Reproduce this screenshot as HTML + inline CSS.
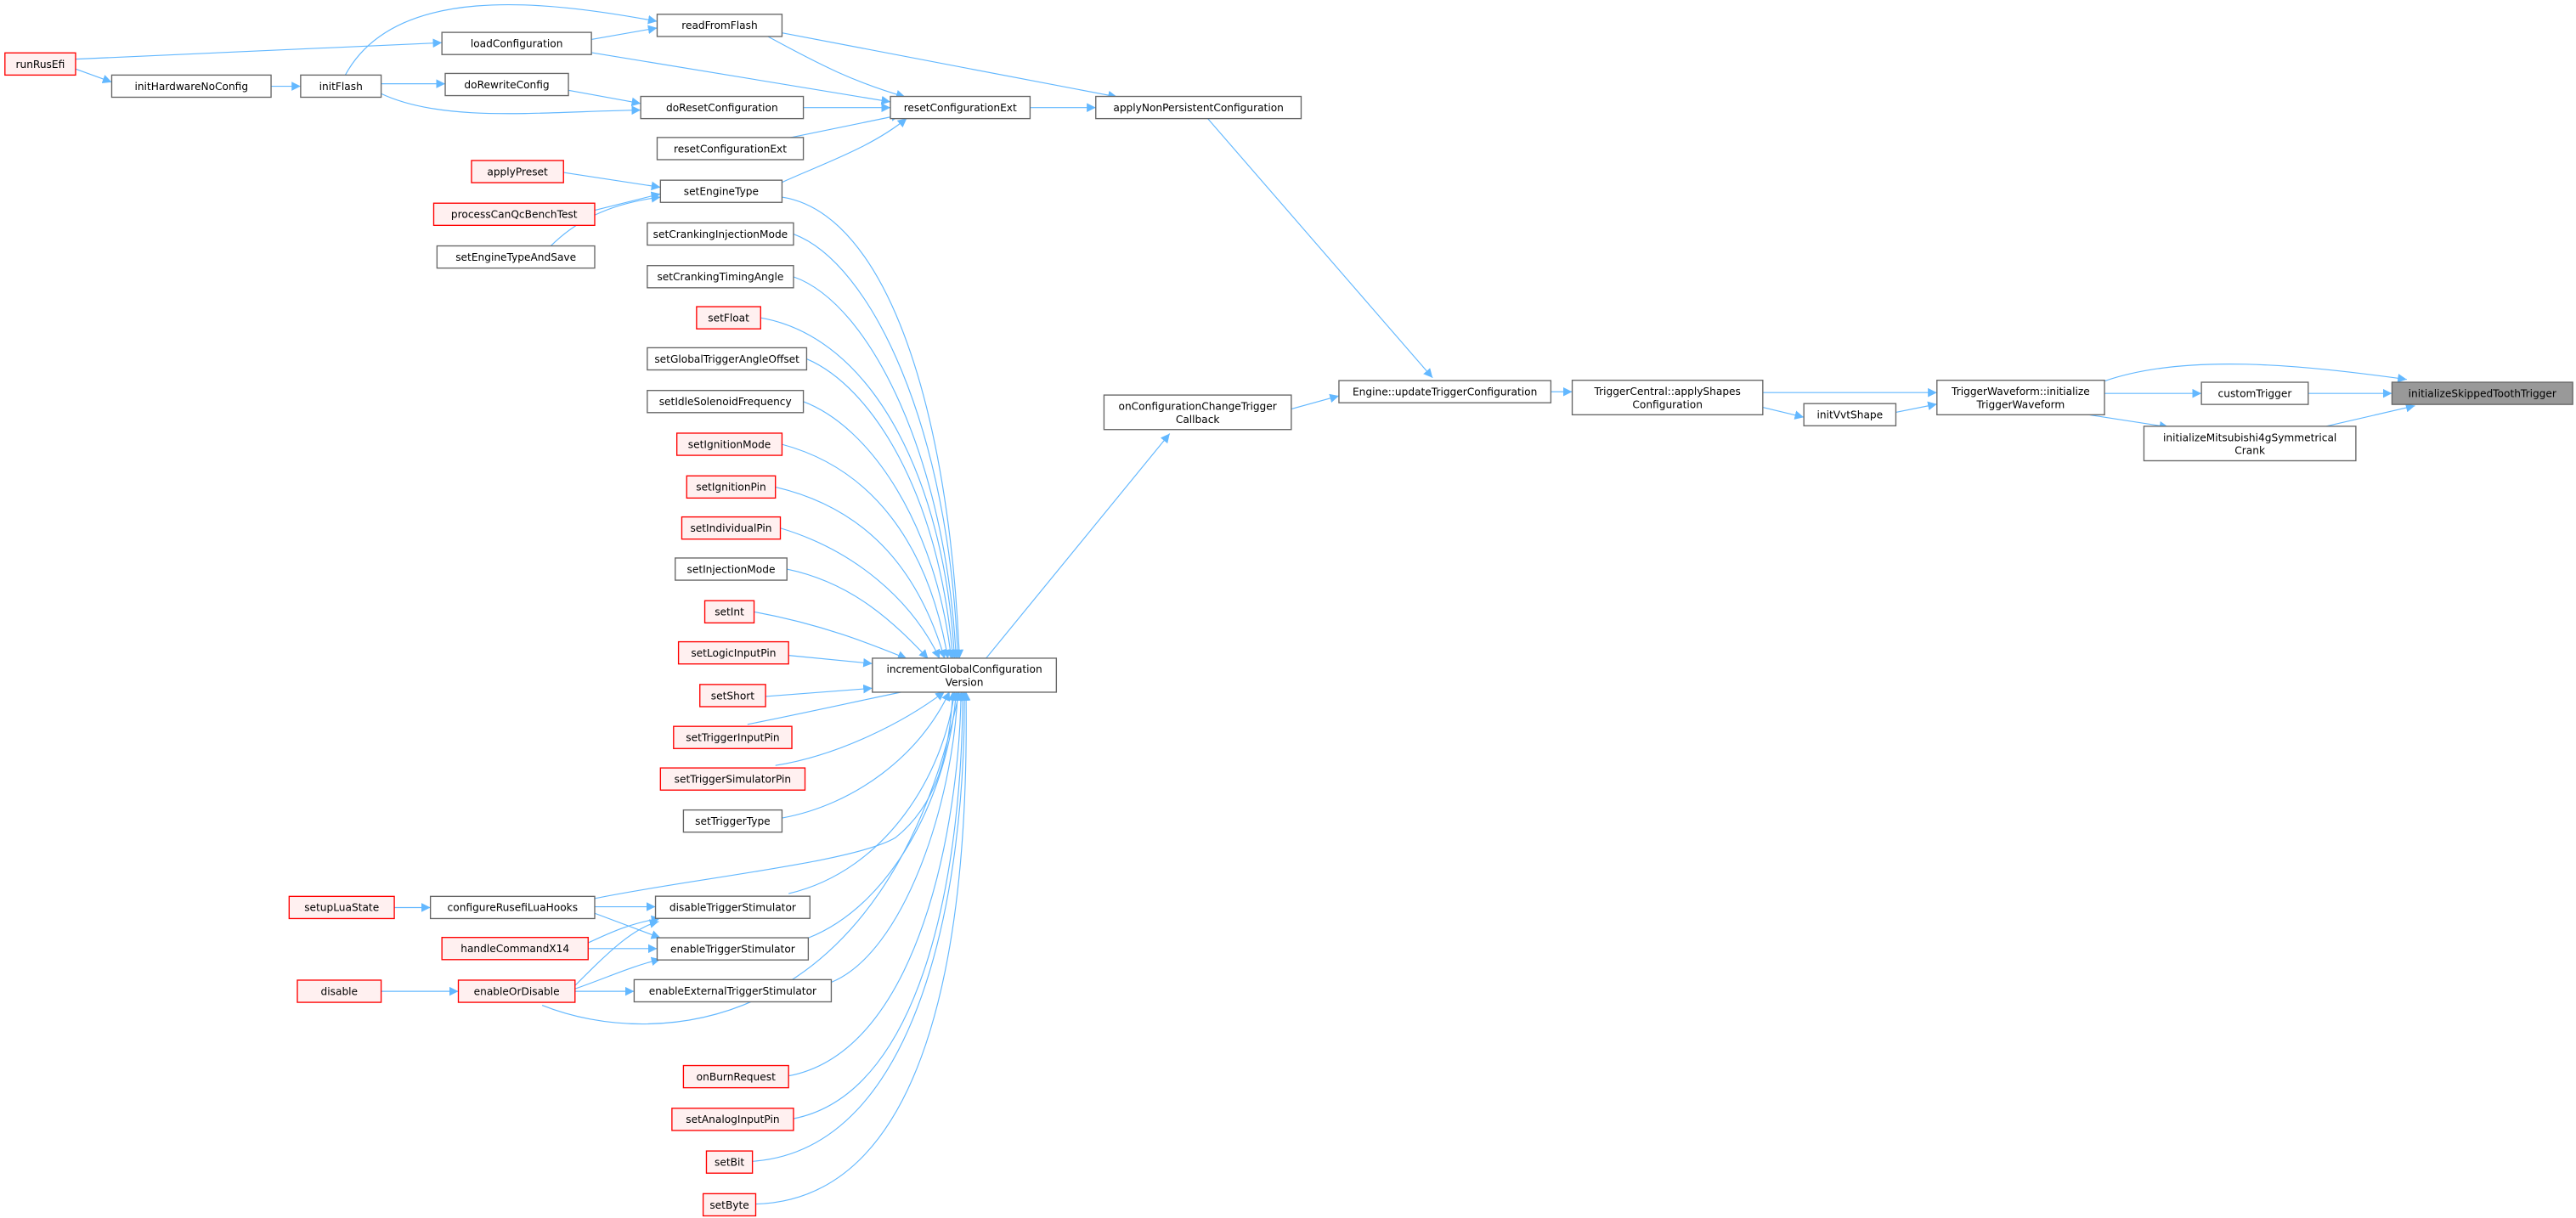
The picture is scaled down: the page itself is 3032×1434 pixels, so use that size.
<!DOCTYPE html>
<html><head><meta charset="utf-8"><style>
html,body{margin:0;padding:0;background:#fff;}
svg{display:block}
text{font-family:"DejaVu Sans","Liberation Sans",sans-serif;font-size:6.3px;fill:#000;text-anchor:middle}
.n{fill:#fff;stroke:#666;stroke-width:0.7}
.r{fill:#fff0f0;stroke:#f00;stroke-width:0.7}
.g{fill:#999;stroke:#666;stroke-width:0.7}
.e{fill:none;stroke:#63b8ff;stroke-width:0.6}
</style></head><body>
<svg width="3032" height="1434" viewBox="0 0 1568 741.5" preserveAspectRatio="none" xmlns="http://www.w3.org/2000/svg">
<defs><marker id="a" viewBox="0 0 10 10" refX="10" refY="5" markerWidth="5.5" markerHeight="5.5" markerUnits="userSpaceOnUse" orient="auto"><path d="M0,0 L10,5 L0,10 z" fill="#63b8ff"/></marker></defs>
<g marker-end="url(#a)">
<path class="e" d="M46,36 L269,26"/>
<path class="e" d="M46,42 L68,50"/>
<path class="e" d="M165,52.5 L183,52.5"/>
<path class="e" d="M210,46 C240,-10 330,0 400,13"/>
<path class="e" d="M232,51 L271,51"/>
<path class="e" d="M232,57 C270,75 330,68 390,67"/>
<path class="e" d="M360,24 L400,17"/>
<path class="e" d="M360,32 L542,62"/>
<path class="e" d="M346,55 L390,63"/>
<path class="e" d="M467,22 C500,40 520,50 551,59"/>
<path class="e" d="M476,20 L680,59"/>
<path class="e" d="M489,65.5 L542,65.5"/>
<path class="e" d="M480,84 L548,70"/>
<path class="e" d="M476,111 C500,100 530,90 552,72"/>
<path class="e" d="M627,65.5 L667,65.5"/>
<path class="e" d="M735,72 L872,230"/>
<path class="e" d="M343,105 L402,114"/>
<path class="e" d="M362,128 L402,118"/>
<path class="e" d="M335,150 C350,135 370,124 402,120"/>
<path class="e" d="M476,120 C540,130 578,250 584,401"/>
<path class="e" d="M483,142.5 C530,160 578,260 583,401"/>
<path class="e" d="M483,168.5 C530,185 576,280 582,401"/>
<path class="e" d="M463,193.5 C530,205 575,290 581,401"/>
<path class="e" d="M491,218.5 C530,235 572,300 580,401"/>
<path class="e" d="M489,244.5 C530,260 570,320 579,401"/>
<path class="e" d="M476,270.5 C530,285 565,330 577,401"/>
<path class="e" d="M472,296.5 C530,310 560,350 575,401"/>
<path class="e" d="M475,321.5 C520,335 555,365 572,401"/>
<path class="e" d="M479,346.5 C520,355 545,380 565,401"/>
<path class="e" d="M459,372.5 C500,380 530,392 552,401"/>
<path class="e" d="M480,399 L531,404"/>
<path class="e" d="M466,424 L531,419"/>
<path class="e" d="M455,441 C500,432 530,425 565,418"/>
<path class="e" d="M472,466 C510,460 550,440 575,421"/>
<path class="e" d="M476,498 C520,490 560,460 578,421"/>
<path class="e" d="M362,547 C420,535 520,525 545,510 C570,490 578,460 580,421"/>
<path class="e" d="M480,544 C540,530 575,470 581,421"/>
<path class="e" d="M492,571 C545,550 578,480 582,421"/>
<path class="e" d="M506,598 C550,580 580,490 583,421"/>
<path class="e" d="M330,612 C400,640 540,630 584,421"/>
<path class="e" d="M480,655 C560,640 584,500 585,421"/>
<path class="e" d="M483,681 C565,665 586,520 586,421"/>
<path class="e" d="M458,707 C560,700 588,540 587,421"/>
<path class="e" d="M460,733 C570,730 590,560 588,421"/>
<path class="e" d="M600,401 L712,264"/>
<path class="e" d="M786,249 L815,241"/>
<path class="e" d="M944,238.5 L957,238.5"/>
<path class="e" d="M1073,239 L1179,239"/>
<path class="e" d="M1073,248 L1098,254"/>
<path class="e" d="M1154,251 L1179,246"/>
<path class="e" d="M1281,232 C1330,215 1400,222 1465,231"/>
<path class="e" d="M1281,239.5 L1340,239.5"/>
<path class="e" d="M1405,239.5 L1456,239.5"/>
<path class="e" d="M1268,252 L1320,260"/>
<path class="e" d="M1416,259.5 L1470,247"/>
<path class="e" d="M240,552.5 L262,552.5"/>
<path class="e" d="M362,552 L399,552"/>
<path class="e" d="M362,556 L402,571"/>
<path class="e" d="M358,574 C375,566 385,562 402,559"/>
<path class="e" d="M358,577.5 L400,577.5"/>
<path class="e" d="M350,600 C370,580 385,565 401,561"/>
<path class="e" d="M350,602 C370,595 385,588 402,584"/>
<path class="e" d="M350,603.5 L386,603.5"/>
<path class="e" d="M232,603.5 L279,603.5"/>
</g>
<g>
<rect class="r" x="3" y="32.2" width="43" height="13.5"/><text x="24.5" y="41.3">runRusEfi</text>
<rect class="n" x="68" y="45.7" width="97" height="13.5"/><text x="116.5" y="54.7">initHardwareNoConfig</text>
<rect class="n" x="183" y="45.7" width="49" height="13.5"/><text x="207.5" y="54.7">initFlash</text>
<rect class="n" x="269" y="19.7" width="91" height="13.5"/><text x="314.5" y="28.7">loadConfiguration</text>
<rect class="n" x="271" y="44.7" width="75" height="13.5"/><text x="308.5" y="53.7">doRewriteConfig</text>
<rect class="n" x="400" y="8.7" width="76" height="13.5"/><text x="438" y="17.7">readFromFlash</text>
<rect class="n" x="390" y="58.7" width="99" height="13.5"/><text x="439.5" y="67.7">doResetConfiguration</text>
<rect class="n" x="542" y="58.7" width="85" height="13.5"/><text x="584.5" y="67.7">resetConfigurationExt</text>
<rect class="n" x="400" y="83.7" width="89" height="13.5"/><text x="444.5" y="92.7">resetConfigurationExt</text>
<rect class="n" x="667" y="58.7" width="125" height="13.5"/><text x="729.5" y="67.7">applyNonPersistentConfiguration</text>
<rect class="r" x="287" y="97.7" width="56" height="13.5"/><text x="315" y="106.7">applyPreset</text>
<rect class="n" x="402" y="109.7" width="74" height="13.5"/><text x="439" y="118.7">setEngineType</text>
<rect class="r" x="264" y="123.7" width="98" height="13.5"/><text x="313" y="132.7">processCanQcBenchTest</text>
<rect class="n" x="266" y="149.7" width="96" height="13.5"/><text x="314" y="158.7">setEngineTypeAndSave</text>
<rect class="n" x="394" y="135.7" width="89" height="13.5"/><text x="438.5" y="144.7">setCrankingInjectionMode</text>
<rect class="n" x="394" y="161.7" width="89" height="13.5"/><text x="438.5" y="170.7">setCrankingTimingAngle</text>
<rect class="r" x="424" y="186.7" width="39" height="13.5"/><text x="443.5" y="195.7">setFloat</text>
<rect class="n" x="394" y="211.7" width="97" height="13.5"/><text x="442.5" y="220.7">setGlobalTriggerAngleOffset</text>
<rect class="n" x="394" y="237.7" width="95" height="13.5"/><text x="441.5" y="246.7">setIdleSolenoidFrequency</text>
<rect class="r" x="412" y="263.7" width="64" height="13.5"/><text x="444" y="272.7">setIgnitionMode</text>
<rect class="r" x="418" y="289.7" width="54" height="13.5"/><text x="445" y="298.7">setIgnitionPin</text>
<rect class="r" x="415" y="314.7" width="60" height="13.5"/><text x="445" y="323.7">setIndividualPin</text>
<rect class="n" x="411" y="339.7" width="68" height="13.5"/><text x="445" y="348.7">setInjectionMode</text>
<rect class="r" x="429" y="365.7" width="30" height="13.5"/><text x="444" y="374.7">setInt</text>
<rect class="r" x="413" y="390.7" width="67" height="13.5"/><text x="446.5" y="399.7">setLogicInputPin</text>
<rect class="r" x="426" y="416.7" width="40" height="13.5"/><text x="446" y="425.7">setShort</text>
<rect class="r" x="410" y="442.2" width="72" height="13.5"/><text x="446" y="451.2">setTriggerInputPin</text>
<rect class="r" x="402" y="467.5" width="88" height="13.5"/><text x="446" y="476.5">setTriggerSimulatorPin</text>
<rect class="n" x="416" y="493.1" width="60" height="13.5"/><text x="446" y="502.1">setTriggerType</text>
<rect class="n" x="399" y="545.6" width="94" height="13.5"/><text x="446" y="554.6">disableTriggerStimulator</text>
<rect class="n" x="400" y="570.9" width="92" height="13.5"/><text x="446" y="579.9">enableTriggerStimulator</text>
<rect class="n" x="386" y="596.4" width="120" height="13.5"/><text x="446" y="605.4">enableExternalTriggerStimulator</text>
<rect class="r" x="416" y="648.7" width="64" height="13.5"/><text x="448" y="657.7">onBurnRequest</text>
<rect class="r" x="409" y="674.7" width="74" height="13.5"/><text x="446" y="683.7">setAnalogInputPin</text>
<rect class="r" x="430" y="700.7" width="28" height="13.5"/><text x="444" y="709.7">setBit</text>
<rect class="r" x="428" y="726.7" width="32" height="13.5"/><text x="444" y="735.7">setByte</text>
<rect class="n" x="531" y="400.7" width="112" height="20.7"/><text x="587" y="409.5">incrementGlobalConfiguration</text><text x="587" y="417.5">Version</text>
<rect class="n" x="672" y="240.5" width="114" height="21"/><text x="729" y="249.5">onConfigurationChangeTrigger</text><text x="729" y="257.5">Callback</text>
<rect class="n" x="815" y="231.7" width="129" height="13.5"/><text x="879.5" y="240.7">Engine::updateTriggerConfiguration</text>
<rect class="n" x="957" y="231.5" width="116" height="21"/><text x="1015" y="240.5">TriggerCentral::applyShapes</text><text x="1015" y="248.5">Configuration</text>
<rect class="n" x="1098" y="245.7" width="56" height="13.5"/><text x="1126" y="254.7">initVvtShape</text>
<rect class="n" x="1179" y="231.5" width="102" height="21"/><text x="1230" y="240.5">TriggerWaveform::initialize</text><text x="1230" y="248.5">TriggerWaveform</text>
<rect class="n" x="1340" y="232.7" width="65" height="13.5"/><text x="1372.5" y="241.7">customTrigger</text>
<rect class="n" x="1305" y="259.5" width="129" height="21"/><text x="1369.5" y="268.5">initializeMitsubishi4gSymmetrical</text><text x="1369.5" y="276.5">Crank</text>
<rect class="g" x="1456" y="232.7" width="110" height="13.5"/><text x="1511" y="241.7">initializeSkippedToothTrigger</text>
<rect class="r" x="176" y="545.7" width="64" height="13.5"/><text x="208" y="554.7">setupLuaState</text>
<rect class="n" x="262" y="545.7" width="100" height="13.5"/><text x="312" y="554.7">configureRusefiLuaHooks</text>
<rect class="r" x="269" y="570.7" width="89" height="13.5"/><text x="313.5" y="579.7">handleCommandX14</text>
<rect class="r" x="181" y="596.7" width="51" height="13.5"/><text x="206.5" y="605.7">disable</text>
<rect class="r" x="279" y="596.7" width="71" height="13.5"/><text x="314.5" y="605.7">enableOrDisable</text>
</g>
</svg>
</body></html>
